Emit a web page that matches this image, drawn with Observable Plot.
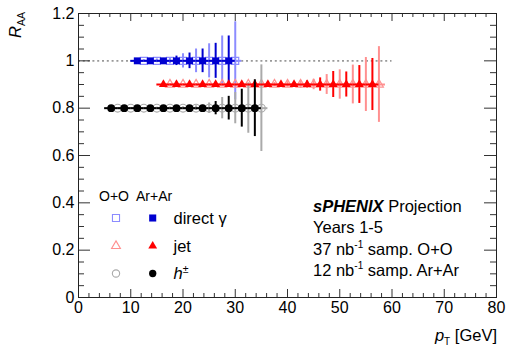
<!DOCTYPE html>
<html><head><meta charset="utf-8">
<script src="https://cdn.jsdelivr.net/npm/d3@7"></script>
<script src="https://cdn.jsdelivr.net/npm/@observablehq/plot@0.6"></script>
<style>
html,body{margin:0;padding:0;background:#fff;}
#chart{width:507px;height:347px;position:relative;}
svg{display:block;}
</style></head><body><div id="chart"></div>
<script>
// ---- axis ticks ----
const xMajorTicks = [0, 10, 20, 30, 40, 50, 60, 70, 80];
const xMinorTicks = [2,4,6,8,12,14,16,18,22,24,26,28,32,34,36,38,42,44,46,48,52,54,56,58,62,64,66,68,72,74,76,78];
const yMajorTicks = [0, 0.2, 0.4, 0.6, 0.8, 1, 1.2];
const yMinorTicks = [0.05,0.1,0.15,0.25,0.3,0.35,0.45,0.5,0.55,0.65,0.7,0.75,0.85,0.9,0.95,1.05,1.1,1.15];
const xDomain = [0, 80];
const yDomain = [0, 1.2];

// ---- reference line ----
const refLineValue = 1;
const refLineX = [0, 60];

// ---- bin half width (horizontal error) ----
const binHalfWidth = 1.25;

// ---- direct gamma (R_AA = 1.0) ----
const gammaRAA = 1.0;
const gammaArArX   = [11.25, 13.75, 16.25, 18.75, 21.25, 23.75, 26.25, 28.75];
const gammaArArErr = [0.004, 0.006, 0.010, 0.020, 0.033, 0.050, 0.074, 0.105];
const gammaOOX     = [12.5, 15, 17.5, 20, 22.5, 25, 27.5, 30];
const gammaOOErr   = [0.005, 0.008, 0.013, 0.030, 0.050, 0.072, 0.105, 0.165];

// ---- jet (R_AA = 0.9) ----
const jetRAA = 0.9;
const jetArArX   = [16.25, 18.75, 21.25, 23.75, 26.25, 28.75, 31.25, 33.75, 36.25, 38.75, 41.25, 43.75, 46.25, 48.75, 51.25, 53.75, 56.25];
const jetArArErr = [0.003, 0.003, 0.004, 0.004, 0.005, 0.005, 0.006, 0.006, 0.007, 0.008, 0.010, 0.015, 0.028, 0.055, 0.053, 0.080, 0.110];
const jetOOX     = [17.5, 20, 22.5, 25, 27.5, 30, 32.5, 35, 37.5, 40, 42.5, 45, 47.5, 50, 52.5, 55, 57.5];
const jetOOErr   = [0.003, 0.003, 0.004, 0.004, 0.005, 0.005, 0.006, 0.007, 0.008, 0.012, 0.017, 0.022, 0.042, 0.062, 0.082, 0.114, 0.160];

// ---- charged hadrons (R_AA = 0.8) ----
const hadronRAA = 0.8;
const hadronArArX   = [6.25, 8.75, 11.25, 13.75, 16.25, 18.75, 21.25, 23.75, 26.25, 28.75, 31.25, 33.75];
const hadronArArErr = [0.002, 0.002, 0.003, 0.003, 0.004, 0.005, 0.006, 0.012, 0.028, 0.050, 0.080, 0.120];
const hadronOOX     = [7.5, 10, 12.5, 15, 17.5, 20, 22.5, 25, 27.5, 30, 32.5, 35];
const hadronOOErr   = [0.002, 0.003, 0.003, 0.004, 0.005, 0.006, 0.010, 0.022, 0.045, 0.066, 0.106, 0.183];

const series = [
  {x: gammaOOX,    err: gammaOOErr,    y: gammaRAA,  color: "#8c8cff", symbol: "square",   open: true},
  {x: jetOOX,      err: jetOOErr,      y: jetRAA,    color: "#ff9090", symbol: "triangle", open: true},
  {x: hadronOOX,   err: hadronOOErr,   y: hadronRAA, color: "#aaaaaa", symbol: "circle",   open: true},
  {x: gammaArArX,  err: gammaArArErr,  y: gammaRAA,  color: "#0000d0", symbol: "square",   open: false},
  {x: jetArArX,    err: jetArArErr,    y: jetRAA,    color: "#ff0000", symbol: "triangle", open: false},
  {x: hadronArArX, err: hadronArArErr, y: hadronRAA, color: "#000000", symbol: "circle",   open: false}
];

const W = 507, H = 347;
const mL = 78, mR = 11, mT = 13, mB = 50;
const plotW = W - mL - mR, plotH = H - mT - mB;
const FONT = "'Liberation Sans', Arial, Helvetica, sans-serif";

const marks = [];
marks.push(Plot.ruleY([refLineValue], {x1: refLineX[0], x2: refLineX[1], stroke: "#999", strokeWidth: 1.6, strokeDasharray: "2,2.8"}));
const rowsOf = s => s.x.map((x, i) => ({x, y: s.y, e: s.err[i]}));
for (const s of series) {
  const rows = rowsOf(s);
  const r = s.symbol === "triangle" ? 3.3 : 3.9;
  marks.push(Plot.ruleY(rows, {y: "y", x1: d => d.x - binHalfWidth, x2: d => d.x + binHalfWidth, stroke: s.color, strokeWidth: 2}));
  marks.push(Plot.ruleX(rows, {x: "x", y1: d => d.y - d.e, y2: d => d.y + d.e, stroke: s.color, strokeWidth: 2, clip: true}));
  marks.push(Plot.dot(rows, {x: "x", y: "y", symbol: s.symbol, r,
    fill: s.open ? "none" : s.color, stroke: s.color, strokeWidth: s.open ? 1.2 : 0}));
}
// frame ticks (inward, all four sides)
const tickStroke = "#333";
marks.push(Plot.tickX(xMajorTicks, {x: d => d, insetTop: plotH - 8, stroke: tickStroke}));
marks.push(Plot.tickX(xMinorTicks, {x: d => d, insetTop: plotH - 4, stroke: tickStroke}));
marks.push(Plot.tickX(xMajorTicks, {x: d => d, insetBottom: plotH - 8, stroke: tickStroke}));
marks.push(Plot.tickX(xMinorTicks, {x: d => d, insetBottom: plotH - 4, stroke: tickStroke}));
marks.push(Plot.tickY(yMajorTicks, {y: d => d, insetRight: plotW - 12, stroke: tickStroke}));
marks.push(Plot.tickY(yMinorTicks, {y: d => d, insetRight: plotW - 6, stroke: tickStroke}));
marks.push(Plot.tickY(yMajorTicks, {y: d => d, insetLeft: plotW - 12, stroke: tickStroke}));
marks.push(Plot.tickY(yMinorTicks, {y: d => d, insetLeft: plotW - 6, stroke: tickStroke}));
marks.push(Plot.frame({stroke: "#222", strokeWidth: 1}));
marks.push(Plot.axisX(xMajorTicks, {tickSize: 0, tickPadding: 4, tickFormat: d => String(d), fontSize: 16, fill: "#000"}));
marks.push(Plot.axisY(yMajorTicks, {tickSize: 0, tickPadding: 4, tickFormat: d => String(d), fontSize: 16, fill: "#000"}));

const plot = Plot.plot({
  width: W, height: H,
  marginLeft: mL, marginRight: mR, marginTop: mT, marginBottom: mB,
  x: {domain: xDomain, label: null},
  y: {domain: yDomain, label: null},
  style: {fontFamily: FONT, background: "#fff", color: "#000", overflow: "visible"},
  marks
});
document.getElementById("chart").appendChild(plot);

// ---- titles, legend, annotation ----
const svg = d3.select(plot);
const g = svg.append("g").attr("font-family", FONT).attr("fill", "#000").attr("text-anchor", "start");

// y title R_AA (rotated)
const yt = g.append("text").attr("transform", "translate(21,12) rotate(-90)").attr("text-anchor", "end").attr("font-size", 16.5);
yt.append("tspan").attr("font-style", "italic").text("R");
yt.append("tspan").attr("font-size", 10.5).attr("dy", 4).text("AA");

// x title p_T [GeV]
const xt = g.append("text").attr("x", 497).attr("y", 341).attr("text-anchor", "end").attr("font-size", 16.5);
xt.append("tspan").attr("font-style", "italic").text("p");
xt.append("tspan").attr("font-size", 10).attr("dy", 4).text("T");
xt.append("tspan").attr("dy", -4).text(" [GeV]");

// legend
const legendHeader = ["O+O", "Ar+Ar"];
g.append("text").attr("x", 99).attr("y", 201).attr("font-size", 14).text(legendHeader[0]);
g.append("text").attr("x", 136).attr("y", 201).attr("font-size", 14).text(legendHeader[1]);
const legendRows = [
  {label: "direct γ", symbol: d3.symbolSquare, oo: "#8c8cff", ar: "#0000d0", cy: 218, size: 50},
  {label: "jet", symbol: d3.symbolTriangle, oo: "#ff9090", ar: "#ff0000", cy: 246, size: 34},
  {label: "h", sup: "±", symbol: d3.symbolCircle, oo: "#aaaaaa", ar: "#000000", cy: 273.5, size: 42}
];
for (const r of legendRows) {
  const path = d3.symbol(r.symbol, r.size)();
  g.append("path").attr("d", path).attr("transform", `translate(116,${r.cy})`).attr("fill", "none").attr("stroke", r.oo).attr("stroke-width", 1.1);
  g.append("path").attr("d", path).attr("transform", `translate(152.7,${r.cy})`).attr("fill", r.ar);
  const t = g.append("text").attr("x", 173.5).attr("y", r.cy + 5.8).attr("font-size", 16.5);
  if (r.sup) {
    t.append("tspan").attr("font-style", "italic").text(r.label);
    t.append("tspan").attr("font-size", 10.5).attr("dy", -6).text(r.sup);
  } else {
    t.text(r.label);
  }
}

// annotation
const ann = g.append("g").attr("font-size", 16.5);
const a1 = ann.append("text").attr("x", 313).attr("y", 211.5);
a1.append("tspan").attr("font-weight", "bold").attr("font-style", "italic").text("sPHENIX");
a1.append("tspan").text(" Projection");
ann.append("text").attr("x", 313).attr("y", 233).text("Years 1-5");
const lumiLines = [{lumi: "37", sys: "O+O", y: 254.5}, {lumi: "12", sys: "Ar+Ar", y: 275.5}];
for (const l of lumiLines) {
  const t = ann.append("text").attr("x", 313).attr("y", l.y);
  t.append("tspan").text(l.lumi + " nb");
  t.append("tspan").attr("font-size", 10).attr("dy", -7).text("-1");
  t.append("tspan").attr("dy", 7).text(" samp. " + l.sys);
}
</script>
</body></html>
